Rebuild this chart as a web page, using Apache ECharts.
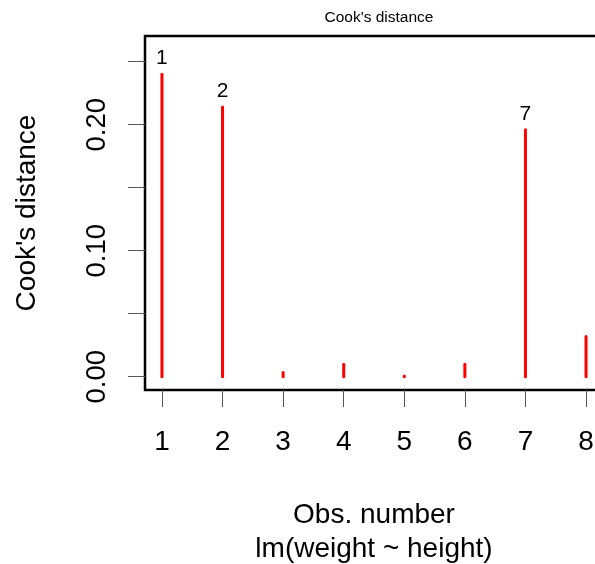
<!DOCTYPE html>
<html>
<head>
<meta charset="utf-8">
<script src="https://cdn.jsdelivr.net/npm/echarts@6/dist/echarts.min.js"></script>
<style>
  html, body { margin: 0; padding: 0; background: #fff; }
  #chart { width: 595px; height: 564px; }
</style>
</head>
<body>
<div id="chart"></div>
<script>
// Cook's distance per observation for lm(weight ~ height)
const obsNumbers = [1, 2, 3, 4, 5, 6, 7, 8];
const cooksD = [0.240, 0.214, 0.0033, 0.0099, 0.0005, 0.0099, 0.196, 0.032];
// observations flagged with their number above the spike
const labelledObs = [1, 2, 7];
const yTickValues = [0, 0.05, 0.10, 0.15, 0.20, 0.25];
const yLabelValues = [0, 0.10, 0.20];

const FONT = '"Liberation Sans", Arial, sans-serif';

const chart = echarts.init(document.getElementById('chart'), null, { renderer: 'canvas' });

chart.setOption({
  animation: false,
  backgroundColor: '#ffffff',
  title: {
    text: "Cook's distance",
    left: 374,
    top: 5,
    textAlign: 'center',
    textStyle: { fontFamily: FONT, fontSize: 15.5, fontWeight: 'normal', color: '#000' }
  },
  grid: {
    left: 145,
    top: 36,
    width: 458,
    height: 354,
    outerBoundsMode: 'none',
    containLabel: false,
    show: true,
    borderColor: '#000',
    borderWidth: 2.5,
    backgroundColor: 'transparent'
  },
  xAxis: {
    type: 'value',
    min: 0.72,
    max: 8.28,
    axisLine: { show: false, onZero: false },
    splitLine: { show: false },
    axisTick: {
      show: true,
      customValues: obsNumbers,
      length: 17,
      lineStyle: { color: '#555', width: 1 }
    },
    axisLabel: {
      customValues: obsNumbers,
      margin: 38,
      fontFamily: FONT,
      fontSize: 28,
      color: '#000'
    },
    name: "Obs. number\nlm(weight ~ height)",
    nameLocation: 'middle',
    nameGap: 108,
    nameTextStyle: { fontFamily: FONT, fontSize: 28, lineHeight: 34, color: '#000' }
  },
  yAxis: {
    type: 'value',
    min: -0.01056,
    max: 0.2704,
    axisLine: { show: false, onZero: false },
    splitLine: { show: false },
    axisTick: {
      show: true,
      customValues: yTickValues,
      length: 17,
      lineStyle: { color: '#555', width: 1 }
    },
    axisLabel: {
      customValues: yLabelValues,
      rotate: 90,
      margin: 34,
      fontFamily: FONT,
      fontSize: 27.5,
      color: '#000',
      formatter: v => v.toFixed(2)
    },
    name: "Cook's distance",
    nameLocation: 'middle',
    nameRotate: 90,
    nameGap: 104,
    nameTextStyle: { fontFamily: FONT, fontSize: 28, color: '#000' }
  },
  series: [{
    type: 'custom',
    data: obsNumbers.map((n, i) => [n, cooksD[i]]),
    renderItem: function (params, api) {
      const x = api.value(0);
      const y = api.value(1);
      const p0 = api.coord([x, 0]);
      const p1 = api.coord([x, y]);
      const children = [{
        type: 'line',
        shape: { x1: p0[0], y1: p0[1], x2: p1[0], y2: p1[1] },
        style: { stroke: '#ff0000', lineWidth: 3, lineCap: 'round' }
      }];
      if (labelledObs.indexOf(x) >= 0) {
        children.push({
          type: 'text',
          x: p1[0],
          y: p1[1] - 16,
          style: {
            text: String(x),
            fontFamily: FONT,
            fontSize: 21,
            fill: '#000',
            align: 'center',
            verticalAlign: 'middle'
          }
        });
      }
      return { type: 'group', children: children };
    }
  }]
});
</script>
</body>
</html>
